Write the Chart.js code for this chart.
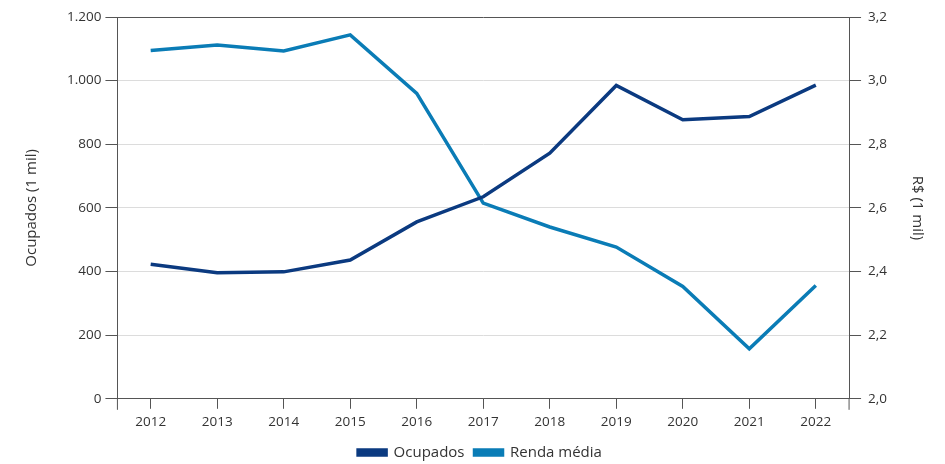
<!DOCTYPE html>
<html>
<head>
<meta charset="utf-8">
<script src="https://cdn.jsdelivr.net/npm/chart.js@4"></script>
<style>
  html, body { margin:0; padding:0; background:#fff; }
  #wrap { width:945px; height:464px; }
</style>
</head>
<body>
<div id="wrap"><canvas id="chart" width="945" height="464"></canvas></div>
<script>
const years = ["2012","2013","2014","2015","2016","2017","2018","2019","2020","2021","2022"];
const ocupados = [423, 396, 399, 436, 556, 635, 772, 985, 877, 887, 986];
const rendaMedia = [3.095, 3.112, 3.093, 3.144, 2.960, 2.615, 2.540, 2.477, 2.353, 2.157, 2.356];
const leftTicks = ["0","200","400","600","800","1.000","1.200"];
const rightTicks = ["2,0","2,2","2,4","2,6","2,8","3,0","3,2"];

const ink = "#555";
const text = "#333";
const family = "'Open Sans', 'Noto Sans', sans-serif";
const tickFont = { family, size:13.5 };
const titleFont = { family, size:15 };

// axis lines run a bit below the plot, like the x tick marks
const axisStubs = {
  id:"axisStubs",
  afterDraw(chart){
    const { ctx, chartArea:a } = chart;
    ctx.save();
    ctx.strokeStyle = ink;
    ctx.lineWidth = 1;
    ctx.beginPath();
    ctx.moveTo(a.left, a.bottom); ctx.lineTo(a.left, a.bottom + 11);
    ctx.moveTo(a.right, a.bottom); ctx.lineTo(a.right, a.bottom + 11);
    ctx.stroke();
    ctx.restore();
  }
};

new Chart(document.getElementById("chart"), {
  type:"line",
  data:{
    labels: years,
    datasets:[
      { label:"Ocupados", data: ocupados, yAxisID:"y", borderColor:"#0b3a80", backgroundColor:"#0b3a80",
        borderWidth:3.5, pointRadius:0, tension:0 },
      { label:"Renda média", data: rendaMedia, yAxisID:"y1", borderColor:"#0a7cb6", backgroundColor:"#0a7cb6",
        borderWidth:3.5, pointRadius:0, tension:0 }
    ]
  },
  options:{
    responsive:false,
    animation:false,
    layout:{ padding:{ top:17, left:19, right:4, bottom:-6 } },
    plugins:{
      legend:{
        position:"bottom",
        labels:{ color:text, font:titleFont, boxWidth:28, boxHeight:5, padding:10 }
      },
      tooltip:{ enabled:false }
    },
    scales:{
      x:{
        offset:true,
        grid:{ drawOnChartArea:false, tickColor:ink, tickLength:10 },
        border:{ color:ink },
        ticks:{ color:text, font:tickFont, padding:5 }
      },
      y:{
        position:"left",
        min:0, max:1200,
        ticks:{ stepSize:200, color:text, font:tickFont, padding:4,
          callback:(v, i) => leftTicks[i] },
        grid:{ color:c => (c.index === 0 || c.index === leftTicks.length - 1) ? ink : "#dcdcdc",
          tickColor:ink, tickLength:12, lineWidth:1 },
        border:{ color:ink },
        title:{ display:true, text:"Ocupados (1 mil)", color:text, font:titleFont, padding:{ top:4, bottom:22 } }
      },
      y1:{
        position:"right",
        min:2, max:3.2,
        ticks:{ stepSize:0.2, color:text, font:tickFont, padding:7,
          callback:(v, i) => rightTicks[i] },
        grid:{ drawOnChartArea:false, tickColor:ink, tickLength:12 },
        border:{ color:ink },
        // on a right axis "top" is the outer side
        title:{ display:true, text:"R$ (1 mil)", color:text, font:titleFont, padding:{ top:15, bottom:14 } }
      }
    }
  },
  plugins:[axisStubs]
});
</script>
</body>
</html>
